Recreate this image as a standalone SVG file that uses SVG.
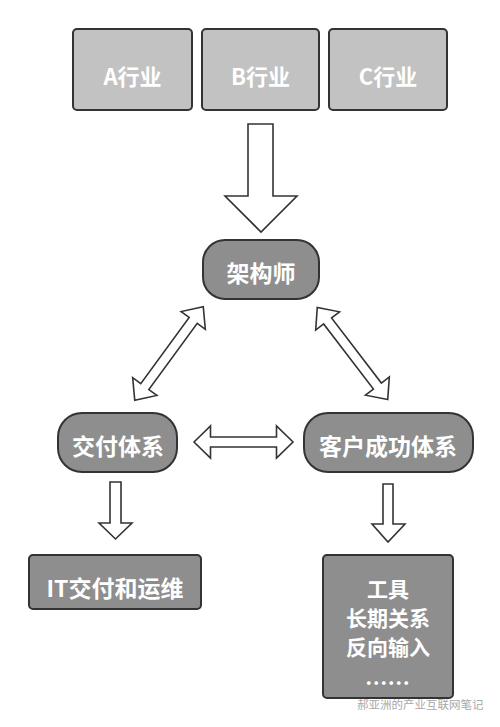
<svg xmlns="http://www.w3.org/2000/svg" width="500" height="727" viewBox="0 0 500 727">
<style>
.light{fill:#c2c2c2;stroke:#333;stroke-width:2}
.mid{fill:#8e8e8e;stroke:#333;stroke-width:2}
.t{font-family:"Noto Sans CJK SC","Liberation Sans",sans-serif;font-weight:bold;font-size:23px;fill:#fff;text-anchor:middle;dominant-baseline:central}
.s{font-size:21px}
.ar{fill:#fff;stroke:#333;stroke-width:1.6;stroke-linejoin:miter}
.wm{font-family:"Noto Sans CJK SC",sans-serif;font-size:11.5px;fill:#a8a8a8;text-anchor:start}
</style>
<rect width="500" height="727" fill="#fff"/>
<g id="industryA"><rect class="light" x="73" y="29" width="119" height="81" rx="4"/><text class="t" x="132.5" y="75" style="font-size:22px">A行业</text></g>
<g id="industryB"><rect class="light" x="202" y="29" width="117" height="81" rx="4"/><text class="t" x="260.5" y="75" style="font-size:22px">B行业</text></g>
<g id="industryC"><rect class="light" x="329" y="29" width="118" height="81" rx="4"/><text class="t" x="388" y="75" style="font-size:22px">C行业</text></g>
<g id="architect"><rect class="mid" x="203" y="240" width="116" height="59" rx="22"/><text class="t" x="261" y="272">架构师</text></g>
<g id="delivery"><rect class="mid" x="58" y="413" width="119" height="59" rx="24"/><text class="t" x="118" y="445">交付体系</text></g>
<g id="customer"><rect class="mid" x="304" y="413" width="169" height="59" rx="24"/><text class="t" x="388" y="445">客户成功体系</text></g>
<g id="itops"><rect class="mid" x="29" y="555" width="172" height="54" rx="4"/><text class="t" x="115" y="587">IT交付和运维</text></g>
<g id="outputs"><rect class="mid" x="323" y="555" width="130" height="143" rx="4"/>
<text class="t s" x="388" y="588">工具</text>
<text class="t s" x="388" y="617">长期关系</text>
<text class="t s" x="388" y="646">反向输入</text>
<text class="t" x="388" y="685" style="dominant-baseline:auto;font-size:20px;letter-spacing:1px">......</text></g>
<g id="connectors">
<polygon class="ar" points="248,124 273,124 273,196 297,196 261,232 225,196 248,196"/>
<polygon class="ar" transform="translate(169,353.5) rotate(-53.8)" points="-58,0 -41,-15 -41,-5 41,-5 41,-15 58,0 41,15 41,5 -41,5 -41,15"/>
<polygon class="ar" transform="translate(352.5,353.5) rotate(-127.4)" points="-58,0 -41,-15 -41,-5 41,-5 41,-15 58,0 41,15 41,5 -41,5 -41,15"/>
<polygon class="ar" transform="translate(243.5,442)" points="-49.5,0 -33,-16 -33,-5 33,-5 33,-16 49.5,0 33,16 33,5 -33,5 -33,16"/>
<polygon class="ar" points="110,482 121,482 121,523 132,523 115.5,539 99,523 110,523"/>
<polygon class="ar" points="383,484 393,484 393,524 405,524 388,542 372,524 383,524"/>
</g>
<text class="wm" x="357" y="709">郝亚洲的产业互联网笔记</text>
</svg>
